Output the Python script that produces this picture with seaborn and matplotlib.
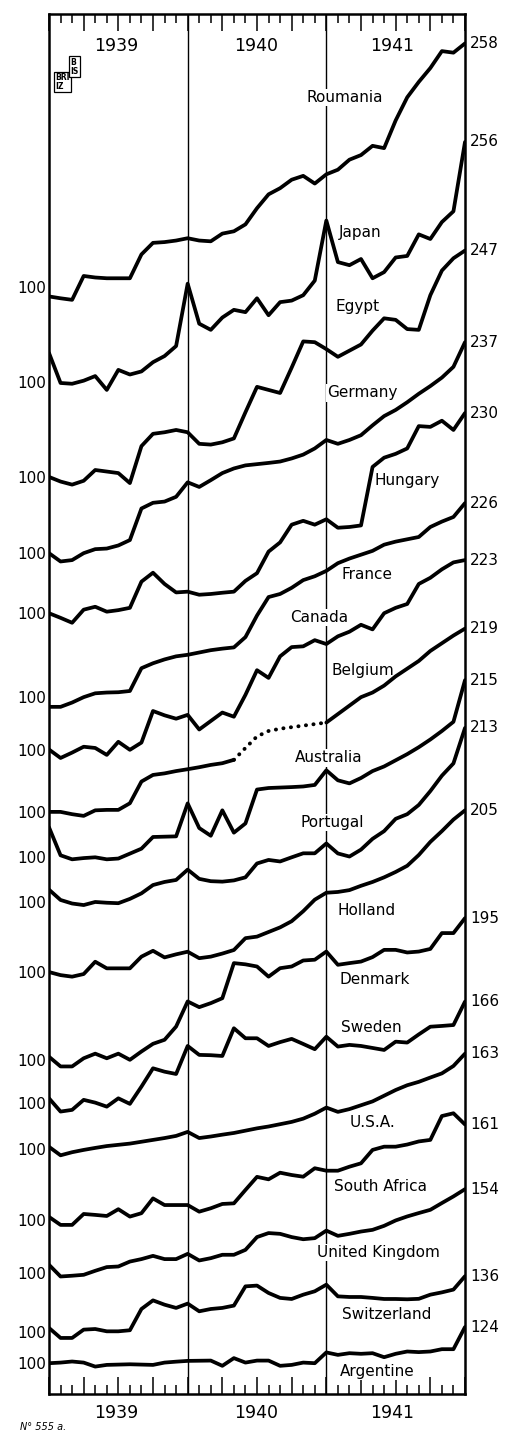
import numpy as np
import pandas as pd
import matplotlib
matplotlib.use("Agg")
import matplotlib.pyplot as plt
import seaborn as sns

# months: end of Dec 1938 (0) .. end of Dec 1941 (36)
months = np.arange(37)

countries = ["Roumania", "Japan", "Egypt", "Germany", "Hungary", "France", "Canada",
             "Belgium", "Australia", "Portugal", "Holland", "Denmark", "Sweden", "U.S.A.",
             "South Africa", "United Kingdom", "Switzerland", "Argentine"]

roumania = [93.7, 92.5, 91.5, 107, 106, 105.5, 105.5, 105.5, 121, 128.5, 129, 130, 131.5, 130, 129.5, 134.5,
            136, 140.5, 151, 160, 164, 169.5, 172, 167, 173, 176, 182.5, 185.5, 191.5, 190, 208, 223, 233, 242,
            253, 252, 258]
japan = [119, 99.5, 99, 101, 104, 95, 108, 105, 107, 113, 117, 123.5, 164, 138, 134, 142, 147, 145.5, 154.5,
         143.5, 152, 153, 156.5, 166, 205, 178, 176, 180, 167.5, 171.5, 181, 182, 196, 193, 204, 211, 256]
egypt = [100, 97, 95, 97.5, 104.5, 103.5, 102.5, 96, 120, 128, 129, 130.5, 129, 121.5, 121, 122.5, 125, 142,
         158.5, 156.5, 154.5, 171, 188, 187.5, 183, 178, 182, 186, 195, 203, 202, 196, 195.5, 218, 234, 242, 247]
germany = [100, 94.6, 95.5, 100, 102.6, 103, 105, 108.5, 129, 132.7, 133.5, 136.6, 146, 143, 147.4, 152, 155,
           157, 157.8, 158.6, 159.5, 161.5, 164, 168, 173.5, 171, 173.5, 176.6, 183, 189, 193, 198, 203.5,
           208.5, 214, 221, 237]
hungary = [100, 97, 93.8, 102.3, 104.2, 101, 102, 103.5, 120.5, 126.3, 119, 113.5, 114, 112, 112.5, 113.3,
           114, 121, 126, 140, 146, 157.5, 160, 157.5, 161, 155.5, 156, 157, 195, 201, 203.5, 207, 221.5, 221,
           225, 219, 230]
france = [93.7, 93.7, 96.5, 100, 102.5, 103, 103.2, 104, 118.8, 122, 124.5, 126.5, 127.5, 129, 130.5, 131.5,
          132.3, 139, 153, 165, 167, 171, 176, 178.5, 182, 187, 190, 192.5, 195, 199, 201, 202.5, 204, 210.5,
          214, 217, 226]
canada = [100.5, 95, 98.5, 102.3, 101.5, 97, 105.5, 100.3, 105, 125.5, 122.7, 120.5, 123, 113.5, 119, 124.5,
          121.8, 136, 152, 147, 161, 167, 167.5, 171.5, 169, 174, 177, 181.5, 178.5, 189, 192.5, 195, 208, 212,
          217.5, 222, 223.5]
belgium = [100, 100, 98.5, 97.4, 101, 101.3, 101.3, 105.6, 119.7, 124, 125, 126.5, 127.7, 129, 130.5, 131.6,
           133.8, 141.5, 149, 152.5, 154, 155, 156, 157, 158, 163.5, 169, 174.5, 177.5, 182, 188, 193, 198,
           204.5, 209.5, 214.5, 219]
australia = [119.5, 101.3, 98.7, 99.5, 100, 98.7, 99.2, 102.4, 105.6, 113.2, 113.4, 113.6, 135, 119, 114,
             130.5, 116, 122, 144, 145, 145.3, 145.6, 146, 147, 156.5, 150, 148, 151.5, 156, 159, 163, 167,
             171.5, 176.5, 182, 188, 215]
portugal = [108, 101.3, 99, 98, 100, 99.5, 99.2, 102, 105.6, 111, 113, 114.3, 121, 115, 113.5, 113.2, 114, 116,
            125, 127.3, 126.3, 129, 131.6, 131.6, 138, 131.5, 129.5, 134, 141, 146, 154, 157, 163, 172, 182,
            190, 213]
holland = [100, 98, 97, 98.7, 106.7, 102.4, 102.4, 102.4, 110, 113.8, 109.5, 111.5, 113.2, 109, 110, 112,
           114.3, 122, 123, 126, 129, 133, 139.5, 147, 151.5, 152, 153.2, 156, 158.5, 161.5, 165, 169, 176,
           184.5, 191.5, 199, 205]
denmark = [102, 95.7, 95.7, 101, 104, 101, 104, 100, 105.4, 110.4, 113, 121.6, 137.9, 134.2, 136.8, 140,
           162.8, 162, 160.6, 154, 159.5, 160.6, 164.5, 165, 170.3, 161.7, 162.8, 163.8, 166.7, 171.4, 171.4,
           169.7, 170.3, 172, 182.3, 182.3, 192]
sweden = [103, 94.4, 95.5, 102, 100.2, 97.6, 103, 99.4, 110.6, 122.5, 120.3, 118.8, 137, 131.2, 131, 130.5,
          148.5, 142, 142, 137, 139.5, 141.6, 138.3, 134.9, 143, 136.6, 137.7, 137, 135.7, 134.4, 139.8, 139.2,
          144.5, 149.5, 150, 150.6, 165.8]
usa = [101.5, 96, 98, 99.5, 100.8, 102, 102.8, 103.6, 104.8, 106, 107.2, 108.6, 111.2, 107.2, 108.2, 109.4,
       110.5, 112, 113.5, 114.7, 116.2, 117.7, 119.8, 123, 127, 124.2, 126, 128.5, 131, 134.7, 138.4, 141.5,
       143.7, 146.5, 149.2, 154, 162]
south_africa = [102, 96.8, 96.8, 103.9, 103.3, 102.6, 107, 102.2, 104.4, 114, 109.7, 109.7, 109.7, 105.4,
                107.6, 110.4, 110.8, 119.5, 128, 126.4, 130.7, 129.2, 128.1, 133.6, 132, 132, 134.6, 136.8,
                145.5, 147.6, 147.6, 149, 151, 152, 167.5, 169.3, 162]
uk = [105.4, 97.8, 98.3, 98.9, 101.5, 103.9, 104.3, 107.5, 109.1, 111.2, 109.1, 109.1, 112.5, 108.2, 109.7,
      111.9, 111.9, 115.1, 123.4, 126, 125.5, 123.4, 122, 122.7, 127.6, 124.2, 125.5, 127, 128.1, 130.7, 134.2,
      136.8, 139, 141.1, 145.5, 149.8, 154.5]
switzerland = [102.4, 95.9, 95.9, 101.3, 101.7, 100.2, 100.2, 100.9, 114.7, 120.3, 117.5, 115.4, 118.2, 113.2,
               114.7, 115.4, 116.9, 129.4, 129.9, 125.1, 121.9, 121.2, 124, 126.2, 130.5, 122.9, 122.5, 122.5,
               121.9, 121.2, 121.2, 121, 121.3, 124, 125.5, 127.3, 136]
argentine = [100, 100.4, 101.1, 100.4, 97.8, 98.9, 99.1, 99.3, 99.1, 98.9, 100.4, 101, 101.5, 101.6, 101.7,
             98.3, 103.3, 100.4, 101.7, 101.7, 98.3, 98.9, 100.4, 100, 107, 105.4, 106.5, 106.1, 106.5, 103.9,
             106.1, 107.6, 107.2, 107.6, 109.1, 109.1, 123.5]

series = [roumania, japan, egypt, germany, hungary, france, canada, belgium, australia, portugal,
          holland, denmark, sweden, usa, south_africa, uk, switzerland, argentine]

end_labels = ["258", "256", "247", "237", "230", "226", "223", "219", "215", "213",
              "205", "195", "166", "163", "161", "154", "136", "124"]
year_labels = ["1939", "1940", "1941"]

# layout: height (in index points above the bottom frame) of each curve's 100 line
baselines = [719, 657, 595.5, 546, 507, 452.5, 418, 378, 348.5, 319.5, 274, 217, 189, 159, 113, 78.5, 40.5, 20]
# where the country names are written (month, height)
name_pos = [(25.6, 842), (26.9, 754), (26.7, 706), (27.1, 650), (31.0, 593.5), (27.5, 532), (23.4, 504.5),
            (27.2, 470), (24.2, 413), (24.5, 371), (27.5, 314), (28.2, 269), (27.9, 238), (28.0, 176.5),
            (28.7, 135), (28.5, 92), (29.2, 51.5), (28.4, 14.5)]
belgium_gap = (16, 24)   # months drawn dotted (no figures)

rows = []
for name, vals, base in zip(countries, series, baselines):
    for m, v in zip(months, vals):
        if name == "Belgium" and belgium_gap[0] < m < belgium_gap[1]:
            piece = "gap"
        elif name == "Belgium" and m >= belgium_gap[1]:
            piece = "Belgium b"
        else:
            piece = name
        rows.append((name, piece, m, v, base + v - 100))
df = pd.DataFrame(rows, columns=["country", "piece", "month", "value", "y"])

bel = df[df.country == "Belgium"]
gap = bel[(bel.month >= belgium_gap[0]) & (bel.month <= belgium_gap[1])]
solid = df[df.piece != "gap"]

sns.set_style("white")
plt.rcParams["font.family"] = ["DejaVu Sans"]
plt.rcParams["text.color"] = "black"
plt.rcParams["xtick.color"] = "black"
plt.rcParams["ytick.color"] = "black"
plt.rcParams["ytick.labelcolor"] = "black"

fig = plt.figure(figsize=(5.09, 14.34), dpi=100)
ax = fig.add_axes([49 / 509, 40 / 1434, 416 / 509, 1380 / 1434])

sns.lineplot(data=solid, x="month", y="y", units="piece", estimator=None, color="black",
             lw=2.7, solid_joinstyle="round", solid_capstyle="round", legend=False, ax=ax, zorder=3)
sns.lineplot(data=gap, x="month", y="y", estimator=None, color="black", lw=2.8,
             linestyle=(0, (0.05, 1.9)), dash_capstyle="round", legend=False, ax=ax, zorder=3)

ax.set_xlim(0, 36)
ax.set_ylim(0, 1380 / 1.54)
ax.axvline(12, color="black", lw=1.0, zorder=1)
ax.axvline(24, color="black", lw=1.0, zorder=1)

for s in ax.spines.values():
    s.set_linewidth(1.8)
    s.set_color("black")

ax.set_xticks(range(0, 37, 3))
ax.set_xticks(months, minor=True)
ax.tick_params(axis="x", which="both", direction="in", top=True, bottom=True,
               labelbottom=False, labeltop=False, width=1.1, color="black")
ax.tick_params(axis="x", which="major", length=12.5)
ax.tick_params(axis="x", which="minor", length=6.5)
ax.set_yticks(baselines)
ax.set_yticklabels(["100"] * len(baselines))
ax.tick_params(axis="y", direction="in", length=9, width=1.3, labelsize=11, pad=2,
               color="black", labelcolor="black")
ax.set_xlabel("")
ax.set_ylabel("")

for name, (mx, my) in zip(countries, name_pos):
    ax.text(mx, my, name, ha="center", va="center", fontsize=11, color="black", zorder=2,
            bbox=dict(fc="white", ec="none", pad=0.8))

for lab, vals, base in zip(end_labels, series, baselines):
    ax.text(36.45, base + vals[-1] - 100, lab, ha="left", va="center", fontsize=11, color="black",
            clip_on=False)

for lab, mx in zip(year_labels, [5.8, 17.9, 29.7]):
    ax.text(mx, 875.6, lab, ha="center", va="center", fontsize=12.5, color="black")
    ax.text(mx, -12.3, lab, ha="center", va="center", fontsize=12.5, color="black", clip_on=False)

ax.text(-2.5, -21.5, "N° 555 a.", ha="left", va="center", fontsize=7, style="italic", color="black",
        clip_on=False)

# BIS mark
ax.text(0.55, 852, "BRI\nIZ", ha="left", va="center", fontsize=5.5, fontweight="bold", linespacing=1.0,
        color="black", bbox=dict(fc="white", ec="black", lw=0.9, pad=0.8))
ax.text(1.85, 862, "B\nIS", ha="left", va="center", fontsize=5.5, fontweight="bold", linespacing=1.0,
        color="black", bbox=dict(fc="white", ec="black", lw=0.9, pad=0.8))

fig.savefig("out.png", dpi=100)
